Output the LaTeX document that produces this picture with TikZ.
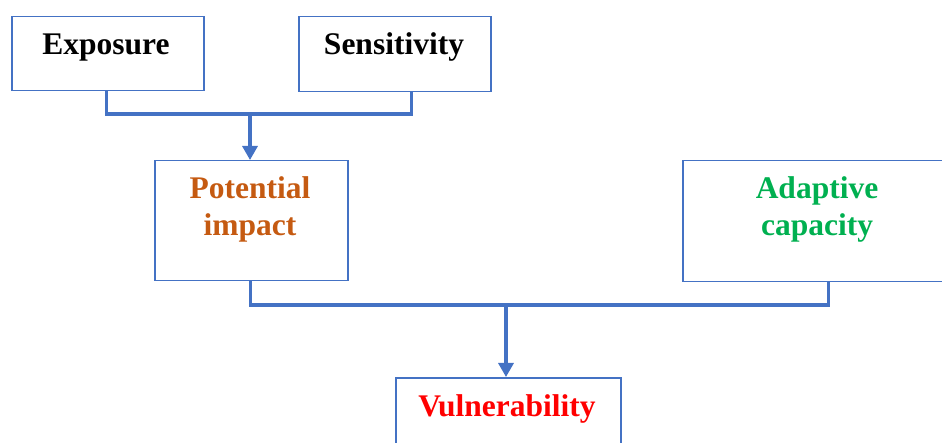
\documentclass[tikz,border=0pt]{standalone}
\usepackage{fontspec}
\setmainfont{Liberation Serif}
\usetikzlibrary{arrows.meta}
\definecolor{boxblue}{HTML}{4472C4}
\definecolor{potorange}{HTML}{C55A11}
\definecolor{adagreen}{HTML}{00B050}
\definecolor{vulred}{HTML}{FF0000}
\begin{document}
\begin{tikzpicture}[x=1pt,y=-1pt,
  box/.style={draw=boxblue, line width=1.5pt, rectangle, inner sep=0pt, anchor=north west},
  lbl/.style={font=\fontsize{31.5}{37}\selectfont\bfseries, align=center, inner sep=0pt},
  conn/.style={draw=boxblue, line width=3.2pt},
  arr/.style={conn, -{Triangle[length=14pt,width=15pt]}}]
\useasboundingbox (0,0) rectangle (942,443);
% boxes
\node[box, minimum width=192pt, minimum height=74pt] (exp) at (11,16) {};
\node[box, minimum width=192pt, minimum height=75pt] (sen) at (298,16) {};
\node[box, minimum width=193pt, minimum height=120pt] (pot) at (154,160) {};
\node[box, minimum width=271pt, minimum height=121pt] (ada) at (682,160) {};
\node[box, minimum width=225pt, minimum height=90pt] (vul) at (395,377) {};
% texts
\node[lbl, anchor=base] (expt) at (106,55) {Exposure};
\node[lbl, anchor=base] (sent) at (394,55) {Sensitivity};
\node[lbl, anchor=north, text=potorange] (pott) at (250,176.5) {Potential\\impact};
\node[lbl, anchor=north, text=adagreen] (adat) at (817,176.5) {Adaptive\\capacity};
\node[lbl, anchor=base, text=vulred] (vult) at (507,416) {Vulnerability};
% connectors
\coordinate (j1) at (250,114);
\coordinate (j2) at (506,305);
\draw[conn] ([xshift=-1pt]exp.south) |- (j1) -| ([xshift=17pt]sen.south);
\draw[arr] (j1) -- (j1 |- pot.north);
\draw[conn] ([xshift=-0.5pt]pot.south) |- (j2) -| ([xshift=10pt]ada.south);
\draw[arr] (j2) -- (j2 |- vul.north);
\end{tikzpicture}
\end{document}
